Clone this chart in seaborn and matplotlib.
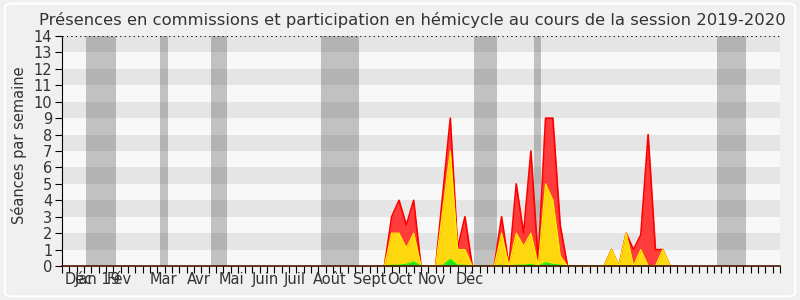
import numpy as np
import pandas as pd
import matplotlib
matplotlib.use("Agg")
import matplotlib.pyplot as plt
import matplotlib.transforms as mtransforms
import seaborn as sns
from matplotlib.patches import FancyBboxPatch

title = "Présences en commissions et participation en hémicycle au cours de la session 2019-2020"
ylabel = "Séances par semaine"

n_weeks = 98
weeks = list(range(43, 85))
# week:     43 44 45 46  47  48 49 50 51  52 53  54 55 56 57 58 59 60 61 62 63  64 65  66 67  68 69 70 71 72 73 74 75 76 77 78 79   80 81 82 83 84
red_vals = [0, 0, 3, 4, 2.5, 4, 0, 0, 0, 4.5, 9, 1.1, 3, 0, 0, 0, 0, 3, 0, 5, 2, 7, 0.3, 9, 9, 2.5, 0, 0, 0, 0, 0, 0, 1, 0, 2, 1, 1.9, 8, 1, 1, 0, 0]
yellow_vals = [0, 0, 2, 2, 1.1, 2, 0, 0, 0, 3.5, 7, 1, 1, 0, 0, 0, 0, 2, 0, 2, 1.2, 2, 0, 5, 4, 0.6, 0, 0, 0, 0, 0, 0, 1, 0, 2, 0, 1, 0, 0, 1, 0, 0]
green_vals = [0, 0, 0.05, 0.05, 0.1, 0.25, 0, 0, 0, 0.05, 0.4, 0.05, 0.05, 0, 0, 0, 0, 0.05, 0, 0.05, 0.05, 0.1, 0, 0.2, 0.1, 0.05, 0, 0, 0, 0, 0, 0, 0.03, 0, 0.03, 0, 0.03, 0, 0, 0.03, 0, 0]

month_labels = ["Déc", "Jan 19", "Fév", "Mar", "Avr", "Mai", "Juin", "Juil", "Août", "Sept", "Oct", "Nov", "Déc"]
month_pos = [2.3, 4.8, 7.8, 13.8, 18.7, 23.1, 27.8, 31.8, 36.6, 42.0, 46.1, 50.5, 55.7]
vac_start = [3.3, 13.4, 20.3, 35.3, 56.3, 64.4, 89.4]
vac_end = [7.4, 14.5, 22.5, 40.5, 59.4, 65.4, 93.4]

df = pd.DataFrame({"week": weeks, "red": red_vals, "yellow": yellow_vals, "green": green_vals})

sns.set_style("white")
plt.rcParams["font.family"] = ["DejaVu Sans"]

fig = plt.figure(figsize=(8, 3), dpi=100, facecolor="#f0f0f0")
fig.patches.append(FancyBboxPatch((0.006, 0.012), 0.988, 0.976,
                                  boxstyle="round,pad=0,rounding_size=0.012",
                                  transform=fig.transFigure, fc="none", ec="white", lw=1.5))
ax = fig.add_axes([0.0775, 0.1133, 0.8975, 0.7667])
ax.set_facecolor("#f8f8f8")

for k in range(1, 14, 2):
    ax.axhspan(k, k + 1, color="#e5e5e5", lw=0, zorder=0)
for s, e in zip(vac_start, vac_end):
    ax.axvspan(s, e, color="#202020", alpha=0.25, lw=0, zorder=1)

ax.fill_between(df["week"], 0, df["red"], color="#ff3b3b", lw=0, zorder=2)
sns.lineplot(data=df, x="week", y="red", color="#ff0000", lw=1.2, ax=ax, zorder=3)
ax.fill_between(df["week"], 0, df["yellow"], color="#ffd70f", lw=0, zorder=4)
sns.lineplot(data=df, x="week", y="yellow", color="#ffee00", lw=0.9, ax=ax, zorder=5)
ax.fill_between(df["week"], 0, df["green"], color="#22dd22", lw=0, zorder=6)
sns.lineplot(data=df, x="week", y="green", color="#00ff00", lw=0.8, ax=ax, zorder=7)

ax.axhline(14, color="black", ls=(0, (1, 3)), lw=0.8, zorder=8)

ax.set_xlim(0, n_weeks)
ax.set_ylim(0, 14)
ax.set_xlabel("")
ax.set_ylabel("")

ax.set_xticks(range(0, n_weeks + 1))
ax.set_xticklabels([])
ax.tick_params(axis="x", which="major", length=5, width=0.8, color="black", direction="out", bottom=True)
trans = mtransforms.blended_transform_factory(ax.transData, ax.transAxes)
for pos, lab in zip(month_pos, month_labels):
    ax.text(pos, -0.025, lab, transform=trans, ha="center", va="top", fontsize=10.5, color="#333333")

ax.set_yticks(range(0, 15))
ax.set_yticklabels([str(v) for v in range(0, 15)])
ax.tick_params(axis="y", length=5, width=0.8, color="black", direction="out", pad=2,
               labelsize=10.5, labelcolor="#333333", left=True)

for side in ["top", "right"]:
    ax.spines[side].set_visible(False)
ax.spines["left"].set_color("black")
ax.spines["left"].set_linewidth(0.8)
ax.spines["bottom"].set_color("#4a1200")
ax.spines["bottom"].set_linewidth(1.2)
ax.spines["left"].set_zorder(9)
ax.spines["bottom"].set_zorder(9)

fig.text(0.516, 0.933, title, ha="center", va="center", fontsize=11.8, color="#333333")
fig.text(0.024, 0.515, ylabel, rotation=90, ha="center", va="center", fontsize=10.5, color="#333333")

fig.savefig("out.png", dpi=100, facecolor=fig.get_facecolor())
